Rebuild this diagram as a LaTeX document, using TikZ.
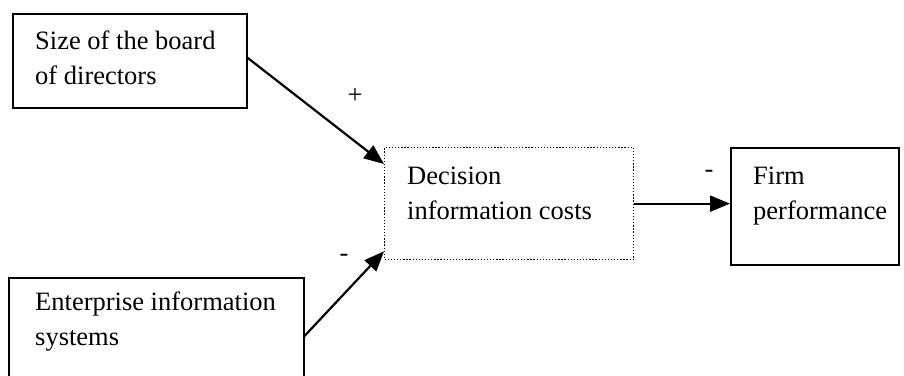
\documentclass[tikz,border=0pt]{standalone}
\usepackage{fontspec}
\setmainfont{Liberation Serif}
\usetikzlibrary{arrows.meta,calc}
\begin{document}
\begin{tikzpicture}[x=1pt,y=-1pt,
  box/.style={draw,line width=1.5pt,inner sep=0pt,anchor=north west},
  dotbox/.style={draw,line width=1.3pt,dash pattern=on 1.3pt off 1.8pt,inner sep=0pt,anchor=north west},
  txt/.style={anchor=base west,inner sep=0pt,align=left,
    font=\fontsize{26.5}{34.5}\selectfont},
  sign/.style={inner sep=0pt,font=\fontsize{26.5}{30}\selectfont},
  link/.style={line width=2.2pt,-{Triangle[length=20pt,width=16pt]}}]
  \useasboundingbox (0,0) rectangle (904,375);

  % boxes
  \node[box,minimum width=234pt,minimum height=94pt] (board) at (12,13) {};
  \node[dotbox,minimum width=249pt,minimum height=112pt] (cost) at (384,147) {};
  \node[box,minimum width=168pt,minimum height=117pt] (perf) at (730,147) {};
  \node[box,minimum width=295pt,minimum height=110pt] (eis) at (8,277) {};

  % box texts (anchored at the baseline of their last line)
  \node[txt] (tboard) at (35,84) {Size of the board\\of directors};
  \node[txt] (tcost) at (407,219) {Decision\\information costs};
  \node[txt] (tperf) at (753,219) {Firm\\performance};
  \node[txt] (teis) at (35,345) {Enterprise information\\systems};

  % connectors
  \coordinate (cin1) at ($(cost.north west)+(0,17)$);
  \coordinate (cin2) at ($(cost.south west)+(0,-9)$);
  \coordinate (bout) at ($(board.east)+(0,-3)$);
  \coordinate (eout) at ($(eis.north east)+(0,59)$);
  \draw[link] (bout) -- (cin1);
  \draw[link] (eout) -- (cin2);
  \draw[link] (cost.east) -- (perf.west |- cost.east);

  % signs
  \node[sign] (splus) at (355,96) {+};
  \node[sign] (sminus1) at (344,258) {-};
  \node[sign] (sminus2) at (709,174) {-};
\end{tikzpicture}
\end{document}
